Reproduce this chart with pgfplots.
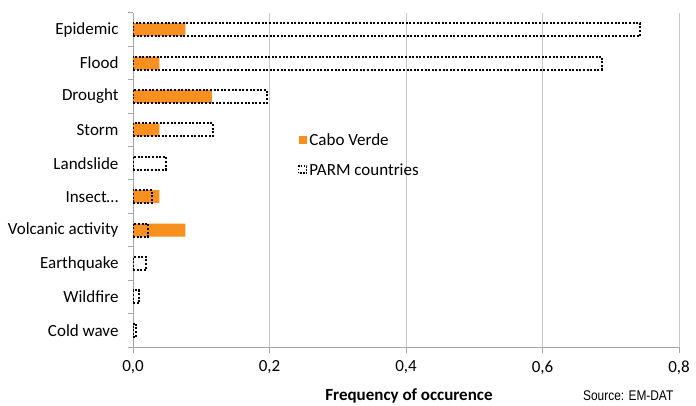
\documentclass[border=0pt]{standalone}
\usepackage{fontspec}
\setmainfont{Carlito}
\newfontfamily\srcfont{Liberation Sans}
\usepackage{pgfplots}
\pgfplotsset{compat=1.18}

\definecolor{cvorange}{RGB}{247,144,30}
\definecolor{axisgray}{RGB}{166,166,166}
\definecolor{gridgray}{RGB}{200,200,200}

\pgfplotstableread{
y  cv      parm
9  0.0769  0.743
8  0.0385  0.687
7  0.1154  0.196
6  0.0385  0.117
5  0.0     0.048
4  0.0385  0.028
3  0.0769  0.022
2  0.0     0.019
1  0.0     0.009
0  0.0     0.005
}\hazards

\begin{document}
\begin{tikzpicture}
\begin{axis}[
  at={(133bp,59bp)}, anchor=south west,
  scale only axis,
  width=546bp, height=334bp,
  xbar, bar width=13bp, bar shift=0pt,
  xmin=0, xmax=0.8,
  ymin=-0.5, ymax=9.5,
  xtick={0,0.2,0.4,0.6,0.8},
  ytick={0,...,9},
  yticklabels={Cold wave,Wildfire,Earthquake,Volcanic activity,Insect…,Landslide,Storm,Drought,Flood,Epidemic},
  minor ytick={-0.5,0.5,...,9.5},
  axis x line*=bottom, axis y line*=left,
  axis line style={axisgray, line width=1bp, -},
  xmajorgrids, grid style={gridgray, line width=1bp},
  tick align=outside,
  major tick length=6bp, minor tick length=5bp,
  major y tick style={draw=none},
  minor y tick style={axisgray, line width=1bp},
  major x tick style={axisgray, line width=1bp},
  xticklabel style={font=\fontsize{17bp}{20bp}\selectfont, yshift=-4bp},
  yticklabel style={font=\fontsize{17bp}{20bp}\selectfont, xshift=-5bp},
  /pgf/number format/.cd, use comma, fixed, fixed zerofill, precision=1, assume math mode=true,
  /pgfplots/.cd,
  legend style={draw=none, fill=none, at={(rel axis cs:0.296,0.652)}, anchor=north west,
    font=\fontsize{17bp}{20bp}\selectfont, row sep=13bp,
    /tikz/every even column/.append style={column sep=3bp}},
  legend cell align=left,
]
\addplot[fill=cvorange, draw=none,
  legend image code/.code={\fill[cvorange] (0bp,-4bp) rectangle (8bp,4bp);}]
  table[x=cv, y=y] {\hazards};
\addplot[fill=none, draw=black, line width=2bp, dash pattern=on 2bp off 1.6bp,
  legend image code/.code={\draw[black, line width=1.6bp, dash pattern=on 1.6bp off 1.4bp] (0bp,-3bp) rectangle (8bp,4bp);}]
  table[x=parm, y=y] {\hazards};
\legend{Cabo Verde, PARM countries}
\end{axis}
\node[font=\fontsize{17bp}{20bp}\selectfont\bfseries, anchor=base] at (409bp,6bp) {Frequency of occurence};
\node[font=\srcfont\fontsize{14bp}{16bp}\selectfont, xscale=0.85, anchor=base west, inner sep=0pt] at (583bp,6bp) {Source: EM-DAT};
\pgfresetboundingbox
\useasboundingbox (0,0) rectangle (696bp,406bp);
\end{tikzpicture}
\end{document}
